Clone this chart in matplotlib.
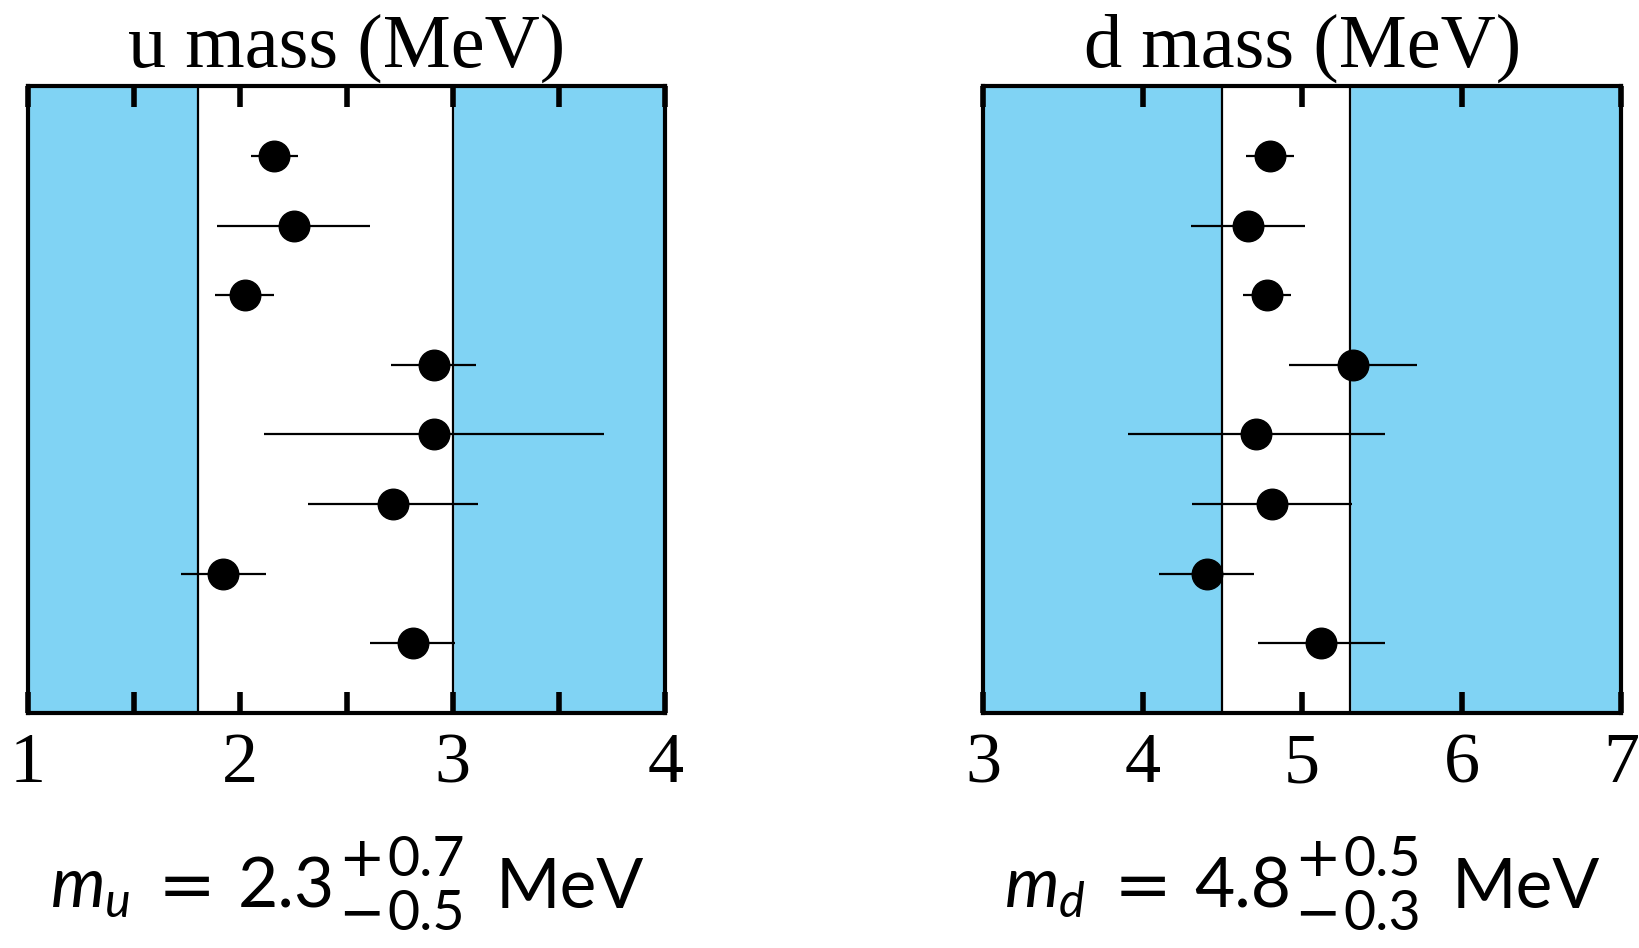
import matplotlib
matplotlib.use("Agg")
import matplotlib.pyplot as plt
from matplotlib.offsetbox import TextArea, HPacker, VPacker, DrawingArea, AnnotationBbox

# u quark mass determinations (MeV), top to bottom
u_vals = [2.16, 2.25, 2.02, 2.91, 2.91, 2.72, 1.92, 2.81]
u_lo = [0.11, 0.36, 0.14, 0.20, 0.80, 0.40, 0.20, 0.20]
u_hi = [0.11, 0.36, 0.14, 0.20, 0.80, 0.40, 0.20, 0.20]
u_band = (1.8, 3.0)
u_ticks = [1, 1.5, 2, 2.5, 3, 3.5, 4]

# d quark mass determinations (MeV), top to bottom
d_vals = [4.80, 4.66, 4.78, 5.32, 4.71, 4.81, 4.40, 5.12]
d_lo = [0.15, 0.36, 0.15, 0.40, 0.80, 0.50, 0.30, 0.40]
d_hi = [0.15, 0.36, 0.15, 0.40, 0.81, 0.50, 0.30, 0.40]
d_band = (4.5, 5.3)
d_ticks = [3, 4, 5, 6, 7]

# summary values printed under each panel
u_summary = ("u", "2.3", "0.7", "0.5")
d_summary = ("d", "4.8", "0.5", "0.3")

blue = "#80d3f4"
plt.rcParams['mathtext.fontset'] = 'custom'
plt.rcParams['mathtext.rm'] = 'Lato'
plt.rcParams['mathtext.it'] = 'Lato:italic'
sans = ['Lato', 'DejaVu Sans']

fig = plt.figure(figsize=(16.39, 9.48), dpi=100)
ax1 = fig.add_axes([0.017, 0.248, 0.389, 0.661])
ax2 = fig.add_axes([0.600, 0.248, 0.389, 0.661])

panels = [
    (ax1, u_vals, u_lo, u_hi, u_band, u_ticks, "u mass (MeV)", u_summary),
    (ax2, d_vals, d_lo, d_hi, d_band, d_ticks, "d mass (MeV)", d_summary),
]


def gap(w):
    return DrawingArea(w, 1)


for ax, vals, lo, hi, band, ticks, title, summ in panels:
    ax.set_facecolor(blue)
    ax.axvspan(band[0], band[1], color="white", zorder=0)
    ax.axvline(band[0], color="black", lw=1.6, zorder=1)
    ax.axvline(band[1], color="black", lw=1.6, zorder=1)
    ypos = list(range(1, len(vals) + 1))
    ax.errorbar(vals, ypos, xerr=[lo, hi], fmt="o", color="black",
                ms=22, elinewidth=1.6, capsize=0, zorder=3)
    ax.set_xlim(ticks[0], ticks[-1])
    ax.set_ylim(len(vals) + 1, 0)
    ax.set_yticks([])
    ax.set_xticks(ticks)
    ax.set_xticklabels([str(int(t)) if t == int(t) else "" for t in ticks],
                       family="Liberation Serif", fontsize=52)
    ax.tick_params(axis="x", direction="in", top=True, length=15, width=4, pad=14)
    for sp in ax.spines.values():
        sp.set_linewidth(3)
    ax.set_title(title, family="Liberation Serif", fontsize=55, pad=14)

    # formula  m_q = value (+err / -err) MeV
    big = dict(fontsize=50, family=sans)
    small = dict(fontsize=40, family=sans)
    sign = dict(fontsize=40, family="DejaVu Sans")
    up = HPacker(children=[TextArea("+", textprops=sign),
                           TextArea(summ[2], textprops=small)],
                 align="baseline", pad=0, sep=2)
    dn = HPacker(children=[TextArea("\u2212", textprops=sign),
                           TextArea(summ[3], textprops=small)],
                 align="baseline", pad=0, sep=2)
    stack = VPacker(children=[up, dn], align="left", pad=0, sep=0)
    row = HPacker(children=[TextArea(r"$m_%s$" % summ[0], textprops=big),
                            gap(20),
                            TextArea("=", textprops=dict(fontsize=50, family="DejaVu Sans")),
                            gap(16),
                            TextArea(summ[1], textprops=big),
                            gap(2),
                            stack,
                            gap(22),
                            TextArea("MeV", textprops=big)],
                  align="center", pad=0, sep=0)
    pos = ax.get_position()
    ab = AnnotationBbox(row, (pos.x0 + pos.width / 2, 0.063),
                        xycoords="figure fraction", frameon=False,
                        box_alignment=(0.5, 0.5))
    fig.add_artist(ab)

fig.savefig("out.png", dpi=100)
